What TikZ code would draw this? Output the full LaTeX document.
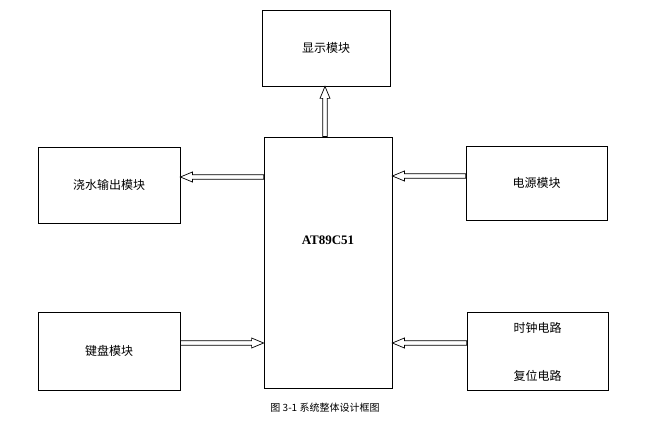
\documentclass[tikz,border=0pt]{standalone}
\usepackage{fontspec}
\setmainfont{Liberation Serif}
\newfontfamily\cjk{Noto Sans CJK SC}
\usetikzlibrary{calc}
\tikzset{blk/.style={draw,line width=0.8pt,font=\cjk\fontsize{12}{14}\selectfont,inner sep=0pt}}
\newcommand\hollowarrow[2]{%
\draw[line width=0.7pt,fill=white] let \p1=(#1),\p2=(#2),\n1={veclen(\x2-\x1,\y2-\y1)},\n2={atan2(\y2-\y1,\x2-\x1)} in
 [shift={(\p1)},rotate=\n2] (0pt,-2.2pt) -- (\n1-12pt,-2.2pt) -- (\n1-12pt,-5pt) -- (\n1,0pt) -- (\n1-12pt,5pt) -- (\n1-12pt,2.2pt) -- (0pt,2.2pt) -- cycle;}
\begin{document}
\begin{tikzpicture}[x=1pt,y=-1pt]
\useasboundingbox (0,0) rectangle (667,425);
\node[blk,minimum width=128pt,minimum height=76pt] (disp) at (326,48) {显示模块};
\node[draw,line width=0.8pt,minimum width=128pt,minimum height=251pt,inner sep=0pt] (mcu) at (328,262.5) {};
\node[font=\bfseries\fontsize{13}{15}\selectfont] (lbl) at (328,240) {AT89C51};
\node[blk,minimum width=142pt,minimum height=76pt] (water) at (109,185) {浇水输出模块};
\node[blk,minimum width=141pt,minimum height=74pt] (power) at (536.5,183) {电源模块};
\node[blk,minimum width=142pt,minimum height=78pt] (key) at (109,351) {键盘模块};
\node[draw,line width=0.8pt,minimum width=141pt,minimum height=78pt,inner sep=0pt] (clk) at (537.5,351) {};
\node[font=\cjk\fontsize{12}{14}\selectfont] (clkt) at (537.5,328) {时钟电路};
\node[font=\cjk\fontsize{12}{14}\selectfont] (rst) at (537.5,376) {复位电路};
\node[font=\cjk\fontsize{10}{12}\selectfont] (cap) at (325,408) {图 3-1 系统整体设计框图};
\coordinate (upS) at (mcu.north -| 325,0);
\coordinate (upE) at (disp.south -| 325,0);
\hollowarrow{upS}{upE}
\hollowarrow{mcu.west |- 0,177}{water.east |- 0,177}
\hollowarrow{power.west |- 0,176}{mcu.east |- 0,176}
\hollowarrow{key.east |- 0,343}{mcu.west |- 0,343}
\hollowarrow{clk.west |- 0,343}{mcu.east |- 0,343}
\end{tikzpicture}
\end{document}
